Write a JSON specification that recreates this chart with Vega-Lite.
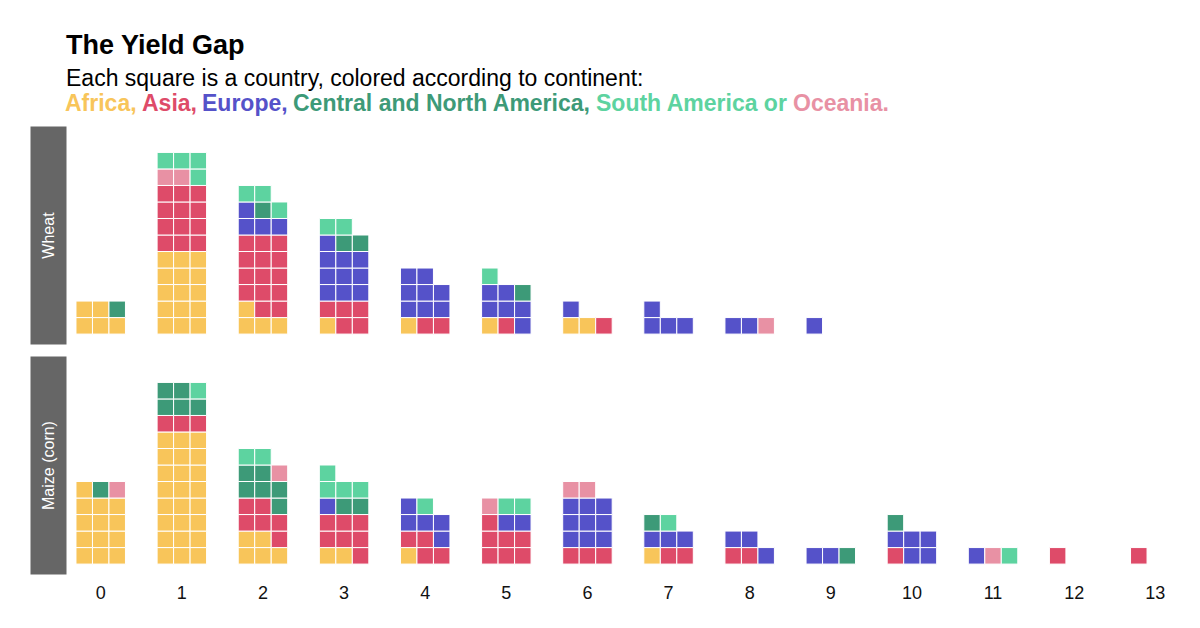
{
"$schema": "https://vega.github.io/schema/vega-lite/v6.json",
"background": "white",
"padding": {"left": 40, "top": 32, "right": 5, "bottom": 5},
"title": {"text": "The Yield Gap", "subtitle": "Each square is a country, colored according to continent:", "anchor": "start", "frame": "group", "dx": 0, "font": "Liberation Sans", "fontSize": 27, "fontWeight": "bold", "color": "#000000", "subtitleFont": "Liberation Sans", "subtitleFontSize": 23, "subtitleColor": "#000000", "subtitlePadding": 8, "offset": 0},
"data": {"values": [
{"crop":"Wheat","bin":0,"continent":"Africa"},{"crop":"Wheat","bin":0,"continent":"Africa"},{"crop":"Wheat","bin":0,"continent":"Africa"},{"crop":"Wheat","bin":0,"continent":"Africa"},{"crop":"Wheat","bin":0,"continent":"Africa"},{"crop":"Wheat","bin":0,"continent":"Central and North America"},
{"crop":"Wheat","bin":1,"continent":"Africa"},{"crop":"Wheat","bin":1,"continent":"Africa"},{"crop":"Wheat","bin":1,"continent":"Africa"},{"crop":"Wheat","bin":1,"continent":"Africa"},{"crop":"Wheat","bin":1,"continent":"Africa"},{"crop":"Wheat","bin":1,"continent":"Africa"},{"crop":"Wheat","bin":1,"continent":"Africa"},{"crop":"Wheat","bin":1,"continent":"Africa"},{"crop":"Wheat","bin":1,"continent":"Africa"},{"crop":"Wheat","bin":1,"continent":"Africa"},{"crop":"Wheat","bin":1,"continent":"Africa"},{"crop":"Wheat","bin":1,"continent":"Africa"},{"crop":"Wheat","bin":1,"continent":"Africa"},{"crop":"Wheat","bin":1,"continent":"Africa"},{"crop":"Wheat","bin":1,"continent":"Africa"},
{"crop":"Wheat","bin":1,"continent":"Asia"},{"crop":"Wheat","bin":1,"continent":"Asia"},{"crop":"Wheat","bin":1,"continent":"Asia"},{"crop":"Wheat","bin":1,"continent":"Asia"},{"crop":"Wheat","bin":1,"continent":"Asia"},{"crop":"Wheat","bin":1,"continent":"Asia"},{"crop":"Wheat","bin":1,"continent":"Asia"},{"crop":"Wheat","bin":1,"continent":"Asia"},{"crop":"Wheat","bin":1,"continent":"Asia"},{"crop":"Wheat","bin":1,"continent":"Asia"},{"crop":"Wheat","bin":1,"continent":"Asia"},{"crop":"Wheat","bin":1,"continent":"Asia"},
{"crop":"Wheat","bin":1,"continent":"Oceania"},{"crop":"Wheat","bin":1,"continent":"Oceania"},
{"crop":"Wheat","bin":1,"continent":"South America"},{"crop":"Wheat","bin":1,"continent":"South America"},{"crop":"Wheat","bin":1,"continent":"South America"},{"crop":"Wheat","bin":1,"continent":"South America"},
{"crop":"Wheat","bin":2,"continent":"Africa"},{"crop":"Wheat","bin":2,"continent":"Africa"},{"crop":"Wheat","bin":2,"continent":"Africa"},{"crop":"Wheat","bin":2,"continent":"Africa"},
{"crop":"Wheat","bin":2,"continent":"Asia"},{"crop":"Wheat","bin":2,"continent":"Asia"},{"crop":"Wheat","bin":2,"continent":"Asia"},{"crop":"Wheat","bin":2,"continent":"Asia"},{"crop":"Wheat","bin":2,"continent":"Asia"},{"crop":"Wheat","bin":2,"continent":"Asia"},{"crop":"Wheat","bin":2,"continent":"Asia"},{"crop":"Wheat","bin":2,"continent":"Asia"},{"crop":"Wheat","bin":2,"continent":"Asia"},{"crop":"Wheat","bin":2,"continent":"Asia"},{"crop":"Wheat","bin":2,"continent":"Asia"},{"crop":"Wheat","bin":2,"continent":"Asia"},{"crop":"Wheat","bin":2,"continent":"Asia"},{"crop":"Wheat","bin":2,"continent":"Asia"},
{"crop":"Wheat","bin":2,"continent":"Europe"},{"crop":"Wheat","bin":2,"continent":"Europe"},{"crop":"Wheat","bin":2,"continent":"Europe"},{"crop":"Wheat","bin":2,"continent":"Europe"},
{"crop":"Wheat","bin":2,"continent":"Central and North America"},
{"crop":"Wheat","bin":2,"continent":"South America"},{"crop":"Wheat","bin":2,"continent":"South America"},{"crop":"Wheat","bin":2,"continent":"South America"},
{"crop":"Wheat","bin":3,"continent":"Africa"},
{"crop":"Wheat","bin":3,"continent":"Asia"},{"crop":"Wheat","bin":3,"continent":"Asia"},{"crop":"Wheat","bin":3,"continent":"Asia"},{"crop":"Wheat","bin":3,"continent":"Asia"},{"crop":"Wheat","bin":3,"continent":"Asia"},
{"crop":"Wheat","bin":3,"continent":"Europe"},{"crop":"Wheat","bin":3,"continent":"Europe"},{"crop":"Wheat","bin":3,"continent":"Europe"},{"crop":"Wheat","bin":3,"continent":"Europe"},{"crop":"Wheat","bin":3,"continent":"Europe"},{"crop":"Wheat","bin":3,"continent":"Europe"},{"crop":"Wheat","bin":3,"continent":"Europe"},{"crop":"Wheat","bin":3,"continent":"Europe"},{"crop":"Wheat","bin":3,"continent":"Europe"},{"crop":"Wheat","bin":3,"continent":"Europe"},
{"crop":"Wheat","bin":3,"continent":"Central and North America"},{"crop":"Wheat","bin":3,"continent":"Central and North America"},
{"crop":"Wheat","bin":3,"continent":"South America"},{"crop":"Wheat","bin":3,"continent":"South America"},
{"crop":"Wheat","bin":4,"continent":"Africa"},
{"crop":"Wheat","bin":4,"continent":"Asia"},{"crop":"Wheat","bin":4,"continent":"Asia"},
{"crop":"Wheat","bin":4,"continent":"Europe"},{"crop":"Wheat","bin":4,"continent":"Europe"},{"crop":"Wheat","bin":4,"continent":"Europe"},{"crop":"Wheat","bin":4,"continent":"Europe"},{"crop":"Wheat","bin":4,"continent":"Europe"},{"crop":"Wheat","bin":4,"continent":"Europe"},{"crop":"Wheat","bin":4,"continent":"Europe"},{"crop":"Wheat","bin":4,"continent":"Europe"},
{"crop":"Wheat","bin":5,"continent":"Africa"},
{"crop":"Wheat","bin":5,"continent":"Asia"},
{"crop":"Wheat","bin":5,"continent":"Europe"},{"crop":"Wheat","bin":5,"continent":"Europe"},{"crop":"Wheat","bin":5,"continent":"Europe"},{"crop":"Wheat","bin":5,"continent":"Europe"},{"crop":"Wheat","bin":5,"continent":"Europe"},{"crop":"Wheat","bin":5,"continent":"Europe"},
{"crop":"Wheat","bin":5,"continent":"Central and North America"},
{"crop":"Wheat","bin":5,"continent":"South America"},
{"crop":"Wheat","bin":6,"continent":"Africa"},{"crop":"Wheat","bin":6,"continent":"Africa"},
{"crop":"Wheat","bin":6,"continent":"Asia"},
{"crop":"Wheat","bin":6,"continent":"Europe"},
{"crop":"Wheat","bin":7,"continent":"Europe"},{"crop":"Wheat","bin":7,"continent":"Europe"},{"crop":"Wheat","bin":7,"continent":"Europe"},{"crop":"Wheat","bin":7,"continent":"Europe"},
{"crop":"Wheat","bin":8,"continent":"Europe"},{"crop":"Wheat","bin":8,"continent":"Europe"},
{"crop":"Wheat","bin":8,"continent":"Oceania"},
{"crop":"Wheat","bin":9,"continent":"Europe"},
{"crop":"Maize","bin":0,"continent":"Africa"},{"crop":"Maize","bin":0,"continent":"Africa"},{"crop":"Maize","bin":0,"continent":"Africa"},{"crop":"Maize","bin":0,"continent":"Africa"},{"crop":"Maize","bin":0,"continent":"Africa"},{"crop":"Maize","bin":0,"continent":"Africa"},{"crop":"Maize","bin":0,"continent":"Africa"},{"crop":"Maize","bin":0,"continent":"Africa"},{"crop":"Maize","bin":0,"continent":"Africa"},{"crop":"Maize","bin":0,"continent":"Africa"},{"crop":"Maize","bin":0,"continent":"Africa"},{"crop":"Maize","bin":0,"continent":"Africa"},{"crop":"Maize","bin":0,"continent":"Africa"},
{"crop":"Maize","bin":0,"continent":"Central and North America"},
{"crop":"Maize","bin":0,"continent":"Oceania"},
{"crop":"Maize","bin":1,"continent":"Africa"},{"crop":"Maize","bin":1,"continent":"Africa"},{"crop":"Maize","bin":1,"continent":"Africa"},{"crop":"Maize","bin":1,"continent":"Africa"},{"crop":"Maize","bin":1,"continent":"Africa"},{"crop":"Maize","bin":1,"continent":"Africa"},{"crop":"Maize","bin":1,"continent":"Africa"},{"crop":"Maize","bin":1,"continent":"Africa"},{"crop":"Maize","bin":1,"continent":"Africa"},{"crop":"Maize","bin":1,"continent":"Africa"},{"crop":"Maize","bin":1,"continent":"Africa"},{"crop":"Maize","bin":1,"continent":"Africa"},{"crop":"Maize","bin":1,"continent":"Africa"},{"crop":"Maize","bin":1,"continent":"Africa"},{"crop":"Maize","bin":1,"continent":"Africa"},{"crop":"Maize","bin":1,"continent":"Africa"},{"crop":"Maize","bin":1,"continent":"Africa"},{"crop":"Maize","bin":1,"continent":"Africa"},{"crop":"Maize","bin":1,"continent":"Africa"},{"crop":"Maize","bin":1,"continent":"Africa"},{"crop":"Maize","bin":1,"continent":"Africa"},{"crop":"Maize","bin":1,"continent":"Africa"},{"crop":"Maize","bin":1,"continent":"Africa"},{"crop":"Maize","bin":1,"continent":"Africa"},
{"crop":"Maize","bin":1,"continent":"Asia"},{"crop":"Maize","bin":1,"continent":"Asia"},{"crop":"Maize","bin":1,"continent":"Asia"},
{"crop":"Maize","bin":1,"continent":"Central and North America"},{"crop":"Maize","bin":1,"continent":"Central and North America"},{"crop":"Maize","bin":1,"continent":"Central and North America"},{"crop":"Maize","bin":1,"continent":"Central and North America"},{"crop":"Maize","bin":1,"continent":"Central and North America"},
{"crop":"Maize","bin":1,"continent":"South America"},
{"crop":"Maize","bin":2,"continent":"Africa"},{"crop":"Maize","bin":2,"continent":"Africa"},{"crop":"Maize","bin":2,"continent":"Africa"},{"crop":"Maize","bin":2,"continent":"Africa"},{"crop":"Maize","bin":2,"continent":"Africa"},
{"crop":"Maize","bin":2,"continent":"Asia"},{"crop":"Maize","bin":2,"continent":"Asia"},{"crop":"Maize","bin":2,"continent":"Asia"},{"crop":"Maize","bin":2,"continent":"Asia"},{"crop":"Maize","bin":2,"continent":"Asia"},{"crop":"Maize","bin":2,"continent":"Asia"},
{"crop":"Maize","bin":2,"continent":"Central and North America"},{"crop":"Maize","bin":2,"continent":"Central and North America"},{"crop":"Maize","bin":2,"continent":"Central and North America"},{"crop":"Maize","bin":2,"continent":"Central and North America"},{"crop":"Maize","bin":2,"continent":"Central and North America"},{"crop":"Maize","bin":2,"continent":"Central and North America"},
{"crop":"Maize","bin":2,"continent":"Oceania"},
{"crop":"Maize","bin":2,"continent":"South America"},{"crop":"Maize","bin":2,"continent":"South America"},
{"crop":"Maize","bin":3,"continent":"Africa"},{"crop":"Maize","bin":3,"continent":"Africa"},
{"crop":"Maize","bin":3,"continent":"Asia"},{"crop":"Maize","bin":3,"continent":"Asia"},{"crop":"Maize","bin":3,"continent":"Asia"},{"crop":"Maize","bin":3,"continent":"Asia"},{"crop":"Maize","bin":3,"continent":"Asia"},{"crop":"Maize","bin":3,"continent":"Asia"},{"crop":"Maize","bin":3,"continent":"Asia"},
{"crop":"Maize","bin":3,"continent":"Europe"},
{"crop":"Maize","bin":3,"continent":"Central and North America"},{"crop":"Maize","bin":3,"continent":"Central and North America"},
{"crop":"Maize","bin":3,"continent":"South America"},{"crop":"Maize","bin":3,"continent":"South America"},{"crop":"Maize","bin":3,"continent":"South America"},{"crop":"Maize","bin":3,"continent":"South America"},
{"crop":"Maize","bin":4,"continent":"Africa"},
{"crop":"Maize","bin":4,"continent":"Asia"},{"crop":"Maize","bin":4,"continent":"Asia"},{"crop":"Maize","bin":4,"continent":"Asia"},{"crop":"Maize","bin":4,"continent":"Asia"},
{"crop":"Maize","bin":4,"continent":"Europe"},{"crop":"Maize","bin":4,"continent":"Europe"},{"crop":"Maize","bin":4,"continent":"Europe"},{"crop":"Maize","bin":4,"continent":"Europe"},{"crop":"Maize","bin":4,"continent":"Europe"},
{"crop":"Maize","bin":4,"continent":"South America"},
{"crop":"Maize","bin":5,"continent":"Asia"},{"crop":"Maize","bin":5,"continent":"Asia"},{"crop":"Maize","bin":5,"continent":"Asia"},{"crop":"Maize","bin":5,"continent":"Asia"},{"crop":"Maize","bin":5,"continent":"Asia"},{"crop":"Maize","bin":5,"continent":"Asia"},{"crop":"Maize","bin":5,"continent":"Asia"},
{"crop":"Maize","bin":5,"continent":"Europe"},{"crop":"Maize","bin":5,"continent":"Europe"},
{"crop":"Maize","bin":5,"continent":"Oceania"},
{"crop":"Maize","bin":5,"continent":"South America"},{"crop":"Maize","bin":5,"continent":"South America"},
{"crop":"Maize","bin":6,"continent":"Asia"},{"crop":"Maize","bin":6,"continent":"Asia"},{"crop":"Maize","bin":6,"continent":"Asia"},
{"crop":"Maize","bin":6,"continent":"Europe"},{"crop":"Maize","bin":6,"continent":"Europe"},{"crop":"Maize","bin":6,"continent":"Europe"},{"crop":"Maize","bin":6,"continent":"Europe"},{"crop":"Maize","bin":6,"continent":"Europe"},{"crop":"Maize","bin":6,"continent":"Europe"},{"crop":"Maize","bin":6,"continent":"Europe"},{"crop":"Maize","bin":6,"continent":"Europe"},{"crop":"Maize","bin":6,"continent":"Europe"},
{"crop":"Maize","bin":6,"continent":"Oceania"},{"crop":"Maize","bin":6,"continent":"Oceania"},
{"crop":"Maize","bin":7,"continent":"Africa"},
{"crop":"Maize","bin":7,"continent":"Asia"},{"crop":"Maize","bin":7,"continent":"Asia"},
{"crop":"Maize","bin":7,"continent":"Europe"},{"crop":"Maize","bin":7,"continent":"Europe"},{"crop":"Maize","bin":7,"continent":"Europe"},
{"crop":"Maize","bin":7,"continent":"Central and North America"},
{"crop":"Maize","bin":7,"continent":"South America"},
{"crop":"Maize","bin":8,"continent":"Asia"},{"crop":"Maize","bin":8,"continent":"Asia"},
{"crop":"Maize","bin":8,"continent":"Europe"},{"crop":"Maize","bin":8,"continent":"Europe"},{"crop":"Maize","bin":8,"continent":"Europe"},
{"crop":"Maize","bin":9,"continent":"Europe"},{"crop":"Maize","bin":9,"continent":"Europe"},
{"crop":"Maize","bin":9,"continent":"Central and North America"},
{"crop":"Maize","bin":10,"continent":"Asia"},
{"crop":"Maize","bin":10,"continent":"Europe"},{"crop":"Maize","bin":10,"continent":"Europe"},{"crop":"Maize","bin":10,"continent":"Europe"},{"crop":"Maize","bin":10,"continent":"Europe"},{"crop":"Maize","bin":10,"continent":"Europe"},
{"crop":"Maize","bin":10,"continent":"Central and North America"},
{"crop":"Maize","bin":11,"continent":"Europe"},
{"crop":"Maize","bin":11,"continent":"Oceania"},
{"crop":"Maize","bin":11,"continent":"South America"},
{"crop":"Maize","bin":12,"continent":"Asia"},
{"crop":"Maize","bin":13,"continent":"Asia"}
]},
"transform": [
  {"window": [{"op": "row_number", "as": "idx"}], "groupby": ["crop", "bin"]},
  {"calculate": "(datum.idx - 1) % 3", "as": "col"},
  {"calculate": "floor((datum.idx - 1) / 3)", "as": "row"}
],
"resolve": {"scale": {"color": "shared"}, "legend": {"color": "shared"}},
"spacing": 12,
"vconcat": [
  {
    "transform": [{"filter": "datum.crop === 'Wheat'"}],
    "width": 1124, "height": 218,
    "mark": {"type": "rect", "stroke": "white", "strokeWidth": 1},
    "encoding": {
      "x": {"field": "bin", "type": "ordinal", "scale": {"domain": [0,1,2,3,4,5,6,7,8,9,10,11,12,13], "paddingInner": 0.39, "paddingOuter": 0.123}, "axis": null},
      "xOffset": {"field": "col", "type": "ordinal", "scale": {"domain": [0,1,2], "paddingInner": 0, "paddingOuter": 0}},
      "y": {"field": "row", "type": "ordinal", "scale": {"domain": [0,1,2,3,4,5,6,7,8,9,10,11], "reverse": true, "paddingInner": 0, "paddingOuter": 0.6},
        "axis": {"title": "Wheat", "labels": false, "ticks": false, "grid": false, "domainColor": "#666666", "domainWidth": 36, "offset": 18, "titleColor": "#ffffff", "titleFontSize": 16, "titleFontWeight": "normal", "titleFont": "Liberation Sans", "titleX": 0, "titleY": 109, "titleAngle": -90, "titleBaseline": "middle", "titleAlign": "center"}},
      "color": {"field": "continent", "type": "nominal",
        "scale": {"domain": ["Africa", "Asia", "Europe", "Central and North America", "South America", "Oceania"], "range": ["#F8C55A", "#DE4B69", "#5552C9", "#3D9A78", "#5DD3A0", "#E891A4"]},
        "legend": {"orient": "top", "direction": "horizontal", "title": null, "symbolSize": 0, "symbolStrokeWidth": 0, "symbolOpacity": 0, "labelFont": "Liberation Sans", "labelFontSize": 23, "labelFontWeight": "bold", "labelOffset": -24, "columnPadding": 5, "labelLimit": 600, "padding": 0, "offset": 10,
          "labelColor": {"expr": "scale('color', datum.value)"},
          "labelExpr": "datum.label === 'South America' ? 'South America or' : datum.label === 'Oceania' ? 'Oceania.' : datum.label + ','"}}
    }
  },
  {
    "transform": [{"filter": "datum.crop === 'Maize'"}],
    "width": 1124, "height": 218,
    "mark": {"type": "rect", "stroke": "white", "strokeWidth": 1},
    "encoding": {
      "x": {"field": "bin", "type": "ordinal", "scale": {"domain": [0,1,2,3,4,5,6,7,8,9,10,11,12,13], "paddingInner": 0.39, "paddingOuter": 0.123},
        "axis": {"title": null, "labelAngle": 0, "domain": false, "ticks": false, "labelFontSize": 18, "labelFont": "Liberation Sans", "labelColor": "#111111", "labelPadding": 10}},
      "xOffset": {"field": "col", "type": "ordinal", "scale": {"domain": [0,1,2], "paddingInner": 0, "paddingOuter": 0}},
      "y": {"field": "row", "type": "ordinal", "scale": {"domain": [0,1,2,3,4,5,6,7,8,9,10,11], "reverse": true, "paddingInner": 0, "paddingOuter": 0.6},
        "axis": {"title": "Maize (corn)", "labels": false, "ticks": false, "grid": false, "domainColor": "#666666", "domainWidth": 36, "offset": 18, "titleColor": "#ffffff", "titleFontSize": 16, "titleFontWeight": "normal", "titleFont": "Liberation Sans", "titleX": 0, "titleY": 109, "titleAngle": -90, "titleBaseline": "middle", "titleAlign": "center"}},
      "color": {"field": "continent", "type": "nominal",
        "scale": {"domain": ["Africa", "Asia", "Europe", "Central and North America", "South America", "Oceania"], "range": ["#F8C55A", "#DE4B69", "#5552C9", "#3D9A78", "#5DD3A0", "#E891A4"]}}
    }
  }
],
"config": {"view": {"stroke": null}, "font": "Liberation Sans"}
}
